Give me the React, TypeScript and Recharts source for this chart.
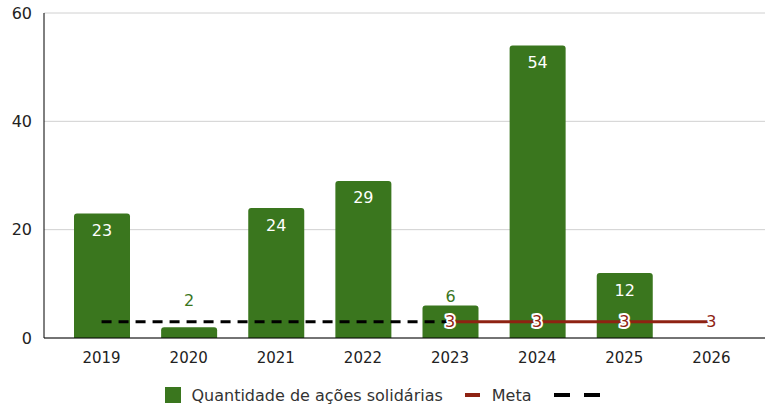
import React from 'react';
import {
  ComposedChart,
  Bar,
  Line,
  XAxis,
  YAxis,
  CartesianGrid,
  Legend,
  LabelList,
} from 'recharts';

const anos = ['2019', '2020', '2021', '2022', '2023', '2024', '2025', '2026'];
const acoes = [23, 2, 24, 29, 6, 54, 12, null];
const meta = [null, null, null, null, 3, 3, 3, 3];
const metaAnterior = [3, 3, 3, 3, 3, null, null, null];
const yTicks = [0, 20, 40, 60];

const GREEN = '#3a761e';
const RED = '#8e2212';
const FONT = '"DejaVu Sans", Verdana, sans-serif';

const data = anos.map((ano, i) => ({
  ano,
  acoes: acoes[i],
  meta: meta[i],
  metaAnterior: metaAnterior[i],
}));

const BarLabel = (props: any) => {
  const { x, y, width, value } = props;
  if (value == null) return null;
  const cx = x + width / 2;
  if (value < 10) {
    const ty = Math.min(y - 8, 301);
    return (
      <text x={cx} y={ty} fill={GREEN} fontSize={16} fontFamily={FONT} textAnchor="middle" dominantBaseline="middle">
        {value}
      </text>
    );
  }
  return (
    <text x={cx} y={y + 18} fill="#fff" fontSize={16} fontFamily={FONT} textAnchor="middle" dominantBaseline="middle">
      {value}
    </text>
  );
};

const MetaLabel = (props: any) => {
  const { x, y, value } = props;
  if (value == null) return null;
  return (
    <g>
      <text
        x={x}
        y={y}
        fill="#fff"
        stroke="#fff"
        strokeWidth={4}
        strokeLinejoin="round"
        fontSize={16}
        fontFamily={FONT}
        textAnchor="middle"
        dominantBaseline="central"
      >
        {value}
      </text>
      <text x={x} y={y} fill={RED} fontSize={16} fontFamily={FONT} textAnchor="middle" dominantBaseline="central">
        {value}
      </text>
    </g>
  );
};

const LegendContent = () => (
  <div style={{ display: 'flex', justifyContent: 'center', alignItems: 'center', fontFamily: FONT, fontSize: 16, color: '#333', height: 24 }}>
    <span style={{ display: 'inline-block', width: 16, height: 16, background: GREEN, marginRight: 10 }} />
    <span>Quantidade de ações solidárias</span>
    <span style={{ display: 'inline-block', width: 15, height: 4, background: RED, marginLeft: 22, marginRight: 12 }} />
    <span>Meta</span>
    <span style={{ display: 'inline-block', width: 16, height: 4, background: '#000', marginLeft: 22 }} />
    <span style={{ display: 'inline-block', width: 16, height: 4, background: '#000', marginLeft: 14 }} />
  </div>
);

export default function App() {
  return (
    <div style={{ position: 'absolute', left: 0, top: 0, width: 765, height: 407, background: '#fff' }}>
      <ComposedChart width={765} height={407} data={data} margin={{ top: 13, right: 0, left: 0, bottom: 0 }}>
        <CartesianGrid vertical={false} stroke="#d0d0d0" />
        <XAxis
          dataKey="ano"
          padding={{ left: 14, right: 10 }}
          tickLine={false}
          axisLine={{ stroke: '#000' }}
          tick={{ fill: '#222', fontSize: 15, fontFamily: FONT }}
          tickMargin={8}
          height={45}
        />
        <YAxis
          domain={[0, 60]}
          ticks={yTicks}
          width={44}
          tickLine={false}
          axisLine={{ stroke: '#000' }}
          tick={{ fill: '#222', fontSize: 16, fontFamily: FONT }}
          tickMargin={6}
        />
        <Legend verticalAlign="bottom" height={24} content={LegendContent} />
        <Bar dataKey="acoes" name="Quantidade de ações solidárias" fill={GREEN} barSize={56} radius={[3, 3, 0, 0]} isAnimationActive={false}>
          <LabelList dataKey="acoes" content={BarLabel} />
        </Bar>
        <Line
          dataKey="metaAnterior"
          name=""
          type="linear"
          stroke="#000"
          strokeWidth={3}
          strokeDasharray="10 7"
          dot={false}
          activeDot={false}
          isAnimationActive={false}
        />
        <Line
          dataKey="meta"
          name="Meta"
          type="linear"
          stroke={RED}
          strokeWidth={3}
          dot={false}
          activeDot={false}
          isAnimationActive={false}
        >
          <LabelList dataKey="meta" content={MetaLabel} />
        </Line>
      </ComposedChart>
    </div>
  );
}
